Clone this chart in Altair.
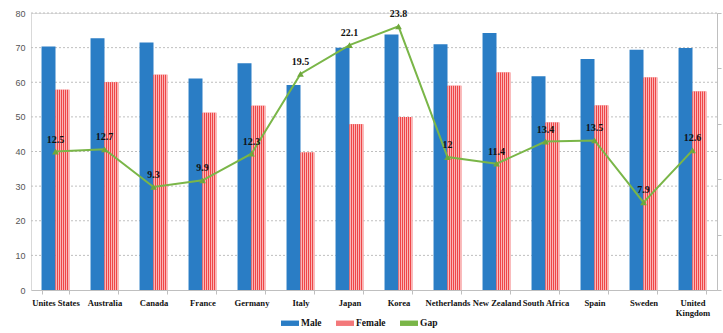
import altair as alt
import pandas as pd

countries = ["Unites States", "Australia", "Canada", "France", "Germany", "Italy",
             "Japan", "Korea", "Netherlands", "New Zealand", "South Africa",
             "Spain", "Sweden", "United Kingdom"]
male = [70.3, 72.7, 71.5, 61.1, 65.5, 59.2, 70.0, 73.8, 71.0, 74.2, 61.7, 66.7, 69.4, 69.9]
female = [57.8, 60.0, 62.2, 51.2, 53.2, 39.7, 47.9, 50.0, 59.0, 62.8, 48.4, 53.3, 61.4, 57.3]
gap = [12.5, 12.7, 9.3, 9.9, 12.3, 19.5, 22.1, 23.8, 12, 11.4, 13.4, 13.5, 7.9, 12.6]
left_ticks = [0, 10, 20, 30, 40, 50, 60, 70, 80]
right_ticks = [0, 5, 10, 15, 20, 25]
series = ["Male", "Female", "Gap"]
colors = ["#2A7DC5", "#F3787A", "#7AB648"]

bars_df = pd.DataFrame(
    [{"country": c, "series": "Male", "value": v} for c, v in zip(countries, male)]
    + [{"country": c, "series": "Female", "value": v} for c, v in zip(countries, female)]
)
gap_df = pd.DataFrame({"country": countries, "gap": gap, "series": "Gap"})
grid_df = pd.DataFrame({"value": left_ticks[1:]})

x_enc = alt.X(
    "country:N", sort=countries, title=None,
    scale=alt.Scale(paddingInner=0.43, paddingOuter=0.215),
    axis=alt.Axis(
        labelAngle=0, labelFont="Liberation Serif", labelFontWeight="bold",
        labelFontSize=8.6, labelColor="#111111", labelPadding=4,
        tickBand="extent", tickSize=4, tickColor="#BFBFBF",
        domainColor="#BFBFBF", labelOverlap=False, labelLimit=200,
        labelExpr="datum.label == 'United Kingdom' ? ['United', 'Kingdom'] : datum.label",
    ),
)
xoff = alt.XOffset("series:N", scale=alt.Scale(domain=["Male", "Female"], paddingInner=0, paddingOuter=0))
color_scale = alt.Scale(domain=series, range=colors)

y_enc = alt.Y("value:Q", title=None, scale=alt.Scale(domain=[0, 80], nice=False),
              axis=alt.Axis(values=left_ticks, grid=False, ticks=False,
                            domainColor="#D9D9D9",
                            labelFont="Liberation Sans", labelFontSize=9,
                            labelColor="#555555", labelPadding=6))

grid = alt.Chart(grid_df).mark_rule(strokeDash=[2, 2], color="#BFBFBF", strokeWidth=1).encode(
    y=y_enc)

bars = alt.Chart(bars_df).mark_bar().encode(
    x=x_enc,
    xOffset=xoff,
    y=y_enc,
    color=alt.Color("series:N", scale=color_scale, title=None,
                    legend=alt.Legend(orient="none", direction="horizontal",
                                      legendX=250, legendY=301,
                                      symbolType="M-1,-0.3H1V0.3H-1Z", symbolSize=324,
                                      symbolStrokeWidth=0,
                                      labelFont="Liberation Serif", labelFontWeight="bold",
                                      labelFontSize=9.5, labelColor="#111111",
                                      columnPadding=14, labelOffset=2)),
)

stops = []
n = 7
for i in range(n):
    a = i / n
    b = (i + 0.5) / n
    c = (i + 1) / n
    stops += [alt.GradientStop(offset=a, color="#EF4648"),
              alt.GradientStop(offset=b, color="#EF4648"),
              alt.GradientStop(offset=b, color="#FAB6B6"),
              alt.GradientStop(offset=c, color="#FAB6B6")]
hatch = alt.LinearGradient(gradient="linear", x1=0, y1=0, x2=1, y2=0, stops=stops)

overlay = alt.Chart(bars_df).transform_filter(alt.datum.series == "Female").mark_bar(
    fill=hatch).encode(
    x=x_enc,
    xOffset=xoff,
    y=y_enc,
)

bar_layer = alt.layer(grid, bars, overlay)

gx = alt.X("country:N", sort=countries)
gy = alt.Y("gap:Q", title=None, scale=alt.Scale(domain=[0, 25], nice=False),
           axis=alt.Axis(orient="right", labels=False, values=right_ticks,
                         ticks=True, tickSize=4, tickColor="#BFBFBF",
                         domainColor="#BFBFBF", grid=False))
line = alt.Chart(gap_df).mark_line(strokeWidth=2).encode(
    x=gx, y=gy, color=alt.Color("series:N", scale=color_scale, legend=None))
pts = alt.Chart(gap_df).mark_point(shape="triangle-up", filled=True, size=45,
                                    color="#6FA83C", opacity=1).encode(
    x=gx, y=gy)
txt = alt.Chart(gap_df).mark_text(font="Liberation Serif", fontWeight="bold",
                                   fontSize=10, color="#111111", dy=-12,
                                   baseline="middle").encode(
    x=gx, y=gy,
    text=alt.Text("gap:Q", format="~g"))
line_layer = alt.layer(line, pts, txt)

chart = alt.layer(bar_layer, line_layer).resolve_scale(y="independent").properties(
    width=686, height=277,
    autosize=alt.AutoSizeParams(type="none"),
    padding={"left": 31, "top": 13, "right": 6, "bottom": 43},
).configure_view(stroke=None).configure(background="white")

chart.save("out.html", embed_options={"renderer": "svg", "actions": False})
